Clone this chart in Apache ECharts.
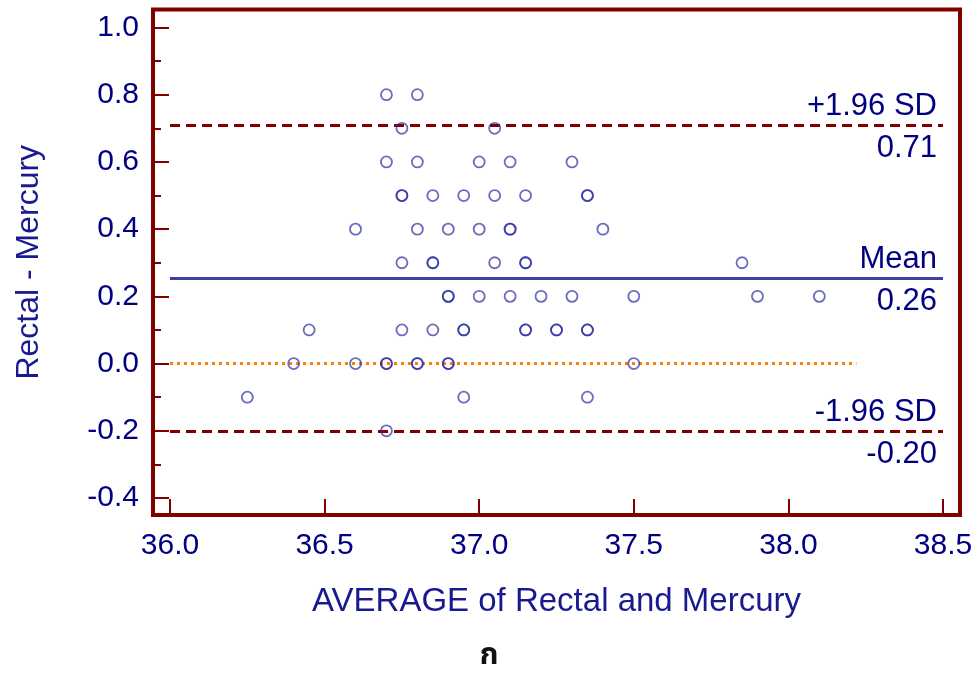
<!DOCTYPE html>
<html>
<head>
<meta charset="utf-8">
<script src="https://cdn.jsdelivr.net/npm/echarts@6/dist/echarts.min.js"></script>
<style>
  html, body { margin: 0; padding: 0; background: #fff; }
  #chart { width: 978px; height: 673px; }
</style>
</head>
<body>
<div id="chart"></div>
<script>
// ---- data ----
const xTickLabels = [36.0, 36.5, 37.0, 37.5, 38.0, 38.5];
const yTickLabels = [-0.4, -0.2, 0.0, 0.2, 0.4, 0.6, 0.8, 1.0];
const yMinorTicks = [-0.3, -0.1, 0.1, 0.3, 0.5, 0.7, 0.9];

// AVERAGE of Rectal and Mercury (x) and Rectal - Mercury (y)
const avgValues = [
  36.70, 36.80,
  36.75, 37.05,
  36.70, 36.80, 37.00, 37.10, 37.30,
  36.75, 36.85, 36.95, 37.05, 37.15, 37.35, 36.75, 37.35,
  36.60, 36.80, 36.90, 37.00, 37.10, 37.40, 37.10,
  36.75, 36.85, 37.05, 37.15, 37.85, 36.85, 37.15,
  36.90, 37.00, 37.10, 37.20, 37.30, 37.50, 37.90, 38.10, 36.90,
  36.45, 36.75, 36.85, 36.95, 37.15, 37.25, 37.35, 36.95, 37.15, 37.25, 37.35,
  36.40, 36.60, 36.70, 36.80, 36.90, 37.50, 36.70, 36.80, 36.90,
  36.25, 36.95, 37.35,
  36.70
];
const diffValues = [
  0.8, 0.8,
  0.7, 0.7,
  0.6, 0.6, 0.6, 0.6, 0.6,
  0.5, 0.5, 0.5, 0.5, 0.5, 0.5, 0.5, 0.5,
  0.4, 0.4, 0.4, 0.4, 0.4, 0.4, 0.4,
  0.3, 0.3, 0.3, 0.3, 0.3, 0.3, 0.3,
  0.2, 0.2, 0.2, 0.2, 0.2, 0.2, 0.2, 0.2, 0.2,
  0.1, 0.1, 0.1, 0.1, 0.1, 0.1, 0.1, 0.1, 0.1, 0.1, 0.1,
  0.0, 0.0, 0.0, 0.0, 0.0, 0.0, 0.0, 0.0, 0.0,
  -0.1, -0.1, -0.1,
  -0.2
];

const upperLimit = 0.71;
const meanDiff = 0.255;
const lowerLimit = -0.20;
const upperText = ['+1.96 SD', '0.71'];
const meanText = ['Mean', '0.26'];
const lowerText = ['-1.96 SD', '-0.20'];
const refLineX = [36.0, 38.5];
const zeroLineX = [36.0, 38.22];
const zeroValue = 0.0;

// ---- styling ----
const navy = '#000080';
const frame = '#800000';
const fontFam = '"Liberation Sans", Arial, sans-serif';

const points = avgValues.map((x, i) => [x, diffValues[i]]);

function refLabels(value, texts) {
  return [
    [
      { coord: [refLineX[0], value], label: { show: true, position: 'insideEndTop', formatter: texts[0],
        color: navy, fontSize: 31, fontFamily: fontFam, distance: [6, 3] } },
      { coord: [refLineX[1], value] }
    ],
    [
      { coord: [refLineX[0], value], label: { show: true, position: 'insideEndBottom', formatter: texts[1],
        color: navy, fontSize: 31, fontFamily: fontFam, distance: [6, 8] } },
      { coord: [refLineX[1], value] }
    ]
  ];
}

const dashRed = { color: frame, width: 3, type: [10, 6] };
const meanStyle = { color: '#4040a0', width: 3, type: 'solid' };

const chart = echarts.init(document.getElementById('chart'), null, { renderer: 'canvas' });
chart.setOption({
  animation: false,
  backgroundColor: '#ffffff',
  title: {
    text: 'ก',
    left: 'center',
    top: 638,
    textStyle: { fontSize: 30, fontWeight: 'bold', color: '#111', fontFamily: '"Noto Sans Thai", "Noto Sans", "DejaVu Sans", sans-serif' }
  },
  grid: {
    show: true,
    left: 153, right: 18, top: 9.5, bottom: 158,
    borderColor: frame, borderWidth: 4,
    backgroundColor: 'transparent'
  },
  xAxis: [{
    type: 'value',
    min: 35.945, max: 38.555,
    position: 'bottom',
    name: 'AVERAGE of Rectal and Mercury',
    nameLocation: 'middle',
    nameGap: 70,
    nameTextStyle: { color: '#1a1a90', fontSize: 33, fontFamily: fontFam },
    axisLine: { show: false, onZero: false },
    axisTick: { show: true, inside: true, length: 16, lineStyle: { color: frame, width: 2 }, customValues: xTickLabels },
    axisLabel: { show: true, customValues: xTickLabels, formatter: v => v.toFixed(1), color: navy, fontSize: 30, fontFamily: fontFam, margin: 16 },
    splitLine: { show: false }
  }],
  yAxis: [{
    type: 'value',
    min: -0.4505, max: 1.0535,
    position: 'left',
    name: 'Rectal - Mercury',
    nameLocation: 'middle',
    nameGap: 108,
    nameRotate: 90,
    nameTextStyle: { color: '#1a1a90', fontSize: 32, fontFamily: fontFam },
    axisLine: { show: false, onZero: false },
    axisTick: { show: true, inside: true, length: 16, lineStyle: { color: frame, width: 2 }, customValues: yTickLabels },
    axisLabel: { show: true, customValues: yTickLabels, formatter: v => v.toFixed(1), color: navy, fontSize: 30, fontFamily: fontFam, margin: 14 },
    splitLine: { show: false }
  }, {
    type: 'value',
    min: -0.4505, max: 1.0535,
    position: 'left',
    offset: 0,
    axisLine: { show: false, onZero: false },
    axisTick: { show: true, inside: true, length: 8, lineStyle: { color: frame, width: 2 }, customValues: yMinorTicks },
    axisLabel: { show: false },
    splitLine: { show: false }
  }],
  series: [
    {
      name: 'zero',
      type: 'line',
      data: zeroLineX.map(x => [x, zeroValue]),
      symbol: 'none',
      lineStyle: { color: '#ff7f00', width: 3, type: [3, 4] },
      z: 1
    },
    {
      name: 'upper',
      type: 'line',
      data: [],
      markLine: { symbol: 'none', silent: true, lineStyle: dashRed, data: refLabels(upperLimit, upperText) },
      z: 2
    },
    {
      name: 'mean',
      type: 'line',
      data: [],
      markLine: { symbol: 'none', silent: true, lineStyle: meanStyle, data: refLabels(meanDiff, meanText) },
      z: 2
    },
    {
      name: 'lower',
      type: 'line',
      data: [],
      markLine: { symbol: 'none', silent: true, lineStyle: dashRed, data: refLabels(lowerLimit, lowerText) },
      z: 2
    },
    {
      name: 'points',
      type: 'scatter',
      data: points,
      symbol: 'circle',
      symbolSize: 11,
      itemStyle: { color: 'rgba(0,0,0,0)', borderColor: 'rgba(40,40,160,0.85)', borderWidth: 1.8 },
      z: 5
    }
  ]
});
</script>
</body>
</html>
